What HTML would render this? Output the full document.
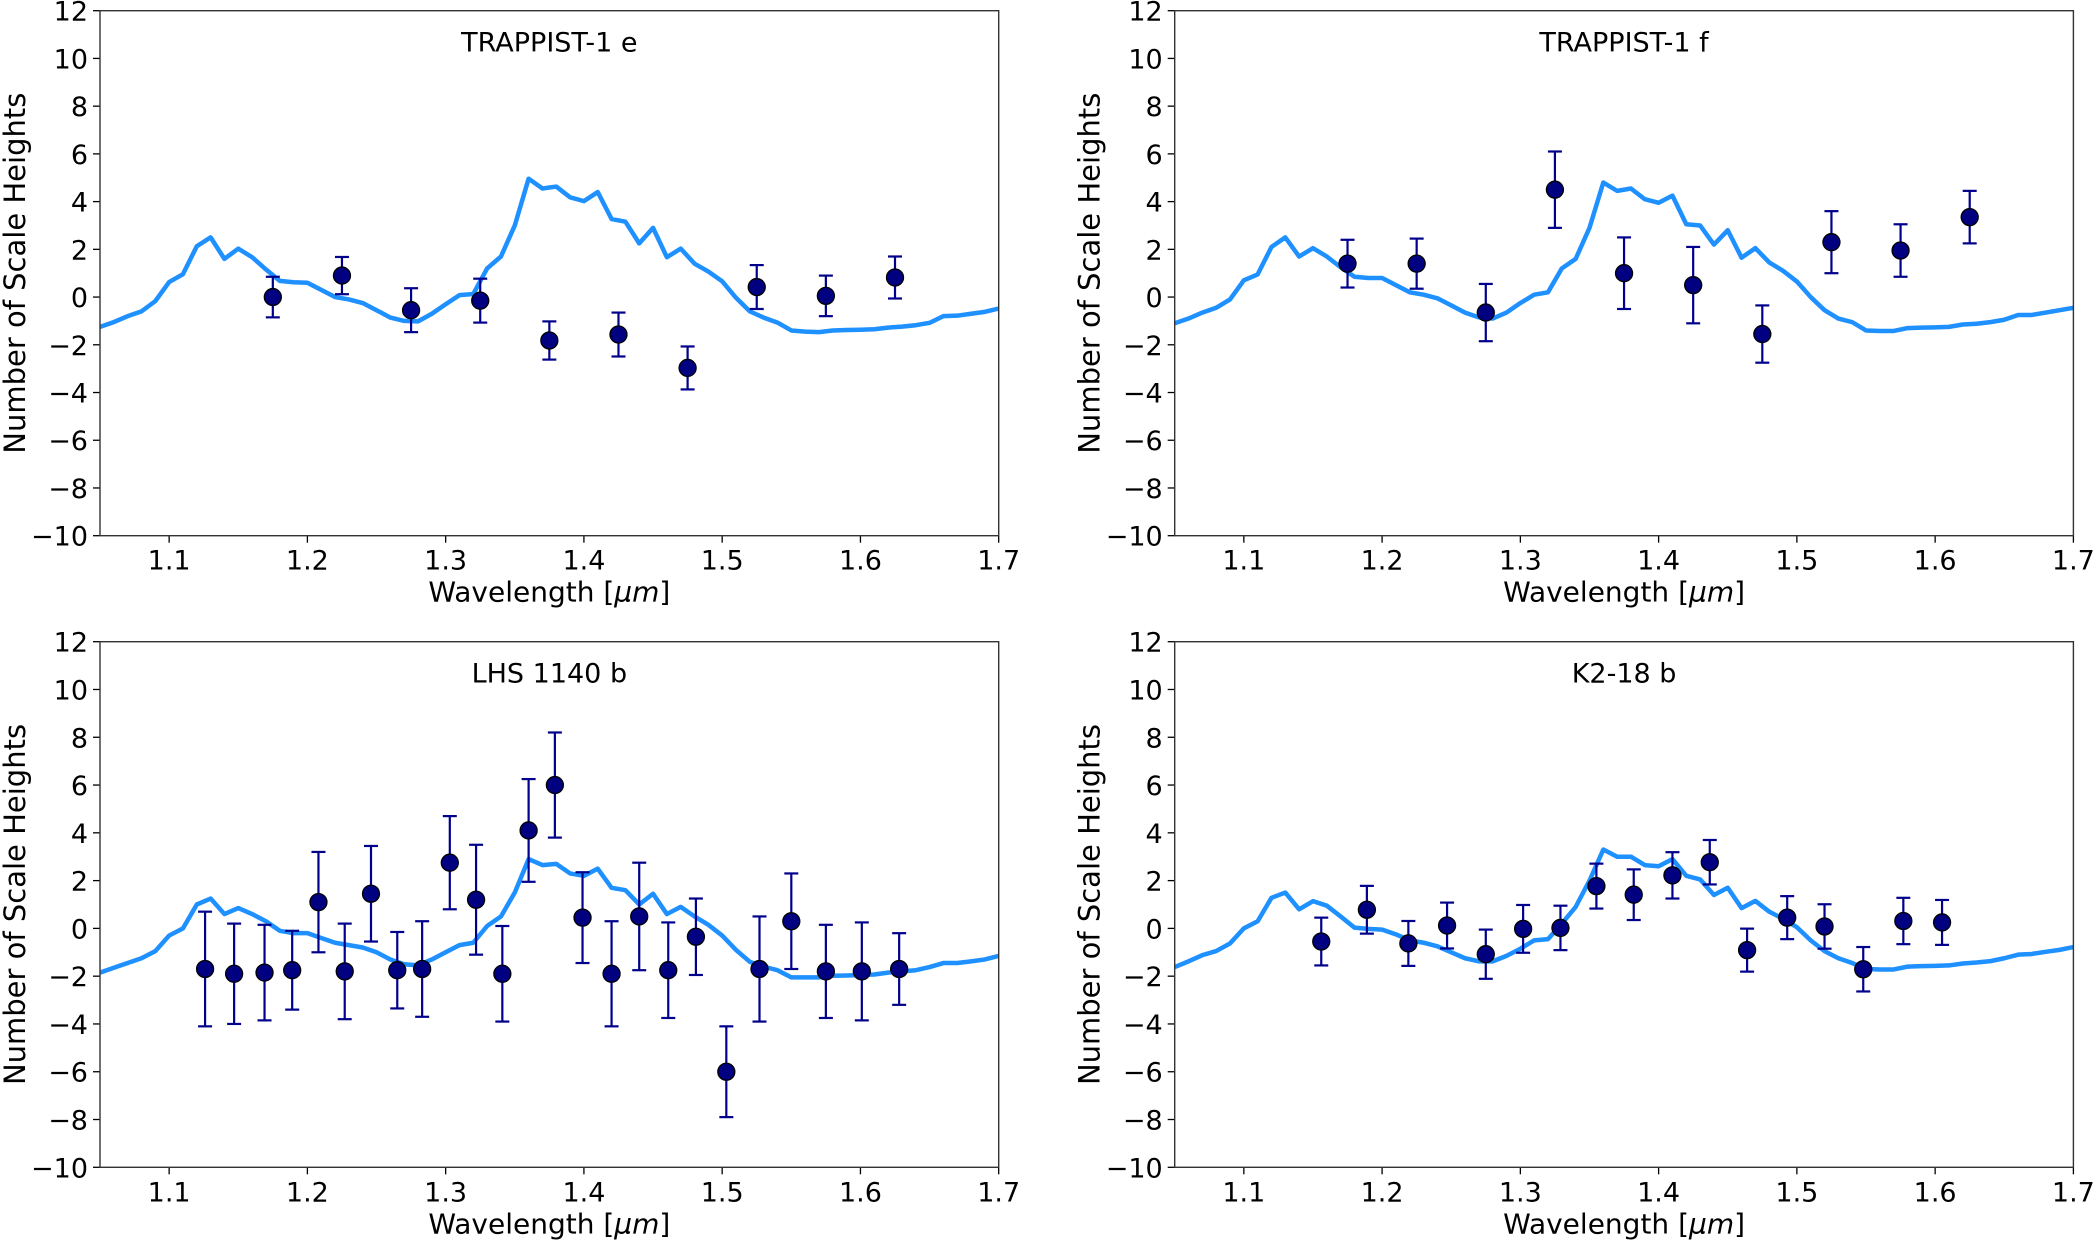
<!DOCTYPE html>
<html><head><meta charset="utf-8">
<style>
html,body{margin:0;padding:0;background:#fff;}
svg{display:block;}
text{font-family:"DejaVu Sans","Liberation Sans",sans-serif;fill:#000;}
</style></head>
<body>
<svg id="fig" width="2100" height="1242" viewBox="0 0 2100 1242" xmlns="http://www.w3.org/2000/svg"></svg>
<script>
const lineX = [1.05,1.06,1.07,1.08,1.09,1.10,1.11,1.12,1.13,1.14,1.15,1.16,1.17,1.18,1.19,1.20,1.21,1.22,1.23,1.24,1.25,1.26,1.27,1.28,1.29,1.30,1.31,1.32,1.33,1.34,1.35,1.36,1.37,1.38,1.39,1.40,1.41,1.42,1.43,1.44,1.45,1.46,1.47,1.48,1.49,1.50,1.51,1.52,1.53,1.54,1.55,1.56,1.57,1.58,1.59,1.60,1.61,1.62,1.63,1.64,1.65,1.66,1.67,1.68,1.69,1.70];
const xTicks = [1.1,1.2,1.3,1.4,1.5,1.6,1.7];
const yTicks = [-10,-8,-6,-4,-2,0,2,4,6,8,10,12];

const modelE = [-1.25,-1.05,-0.8,-0.6,-0.17,0.63,0.96,2.13,2.5,1.6,2.03,1.67,1.16,0.68,0.62,0.6,0.3,0.0,-0.1,-0.25,-0.55,-0.86,-1.0,-1.02,-0.7,-0.3,0.08,0.13,1.2,1.7,3.0,4.96,4.55,4.63,4.18,4.02,4.4,3.27,3.16,2.25,2.9,1.67,2.03,1.4,1.07,0.66,-0.03,-0.6,-0.86,-1.07,-1.4,-1.45,-1.47,-1.4,-1.38,-1.37,-1.35,-1.28,-1.24,-1.18,-1.08,-0.8,-0.78,-0.7,-0.62,-0.48];
const modelF = [-1.1,-0.9,-0.65,-0.45,-0.1,0.7,0.95,2.1,2.5,1.7,2.05,1.7,1.25,0.85,0.8,0.8,0.5,0.2,0.1,-0.05,-0.35,-0.65,-0.85,-0.9,-0.65,-0.25,0.1,0.2,1.2,1.6,2.9,4.8,4.45,4.55,4.1,3.95,4.25,3.05,3.0,2.2,2.8,1.65,2.05,1.45,1.1,0.65,0.0,-0.55,-0.9,-1.05,-1.4,-1.42,-1.42,-1.3,-1.28,-1.27,-1.25,-1.15,-1.12,-1.05,-0.95,-0.75,-0.75,-0.65,-0.55,-0.45];
const modelLHS = [-1.85,-1.65,-1.45,-1.25,-0.95,-0.3,0.0,1.0,1.25,0.6,0.85,0.6,0.3,-0.1,-0.2,-0.2,-0.4,-0.6,-0.7,-0.8,-1.0,-1.3,-1.5,-1.55,-1.3,-1.0,-0.7,-0.6,0.1,0.5,1.5,2.9,2.65,2.7,2.3,2.2,2.5,1.7,1.6,1.0,1.45,0.6,0.9,0.5,0.15,-0.3,-0.9,-1.4,-1.6,-1.75,-2.05,-2.05,-2.05,-1.98,-1.97,-1.95,-1.93,-1.85,-1.8,-1.75,-1.62,-1.45,-1.45,-1.38,-1.3,-1.15];
const modelK2 = [-1.62,-1.38,-1.12,-0.95,-0.63,0.0,0.3,1.28,1.5,0.8,1.14,0.95,0.5,0.03,-0.02,-0.05,-0.25,-0.5,-0.6,-0.75,-1.0,-1.25,-1.38,-1.38,-1.15,-0.85,-0.5,-0.45,0.2,0.9,2.0,3.3,3.0,3.0,2.65,2.6,2.9,2.2,2.05,1.4,1.7,0.85,1.15,0.7,0.4,0.05,-0.5,-0.95,-1.25,-1.45,-1.7,-1.72,-1.72,-1.6,-1.58,-1.57,-1.55,-1.47,-1.43,-1.37,-1.25,-1.1,-1.07,-0.98,-0.9,-0.78];

const obsXE = [1.175,1.225,1.275,1.325,1.375,1.425,1.475,1.525,1.575,1.625];
const obsYE = [0.0,0.9,-0.55,-0.15,-1.82,-1.57,-2.97,0.42,0.05,0.82];
const obsErrE = [0.85,0.78,0.92,0.92,0.8,0.92,0.9,0.92,0.85,0.88];

const obsXF = [1.175,1.225,1.275,1.325,1.375,1.425,1.475,1.525,1.575,1.625];
const obsYF = [1.4,1.4,-0.65,4.5,1.0,0.5,-1.55,2.3,1.95,3.35];
const obsErrF = [1.0,1.05,1.2,1.6,1.5,1.6,1.2,1.3,1.1,1.1];

const obsXLHS = [1.126,1.147,1.169,1.189,1.208,1.227,1.246,1.265,1.283,1.303,1.322,1.341,1.360,1.379,1.399,1.420,1.440,1.461,1.481,1.503,1.527,1.550,1.575,1.601,1.628];
const obsYLHS = [-1.7,-1.9,-1.85,-1.75,1.1,-1.8,1.45,-1.75,-1.7,2.75,1.2,-1.9,4.1,6.0,0.45,-1.9,0.5,-1.75,-0.35,-6.0,-1.7,0.3,-1.8,-1.8,-1.7];
const obsErrLHS = [2.4,2.1,2.0,1.65,2.1,2.0,2.0,1.6,2.0,1.95,2.3,2.0,2.15,2.2,1.9,2.2,2.25,2.0,1.6,1.9,2.2,2.0,1.95,2.05,1.5];

const obsXK2 = [1.156,1.189,1.219,1.247,1.275,1.302,1.329,1.355,1.382,1.410,1.437,1.464,1.493,1.520,1.548,1.577,1.605];
const obsYK2 = [-0.55,0.78,-0.63,0.12,-1.08,-0.02,0.02,1.77,1.41,2.22,2.77,-0.91,0.45,0.08,-1.71,0.31,0.25];
const obsErrK2 = [1.0,1.0,0.94,0.96,1.03,1.0,0.93,0.94,1.06,0.97,0.93,0.9,0.9,0.93,0.93,0.97,0.94];

const NS = "http://www.w3.org/2000/svg";
const svg = document.getElementById('fig');
function mk(tag, attrs, parent){
  const e = document.createElementNS(NS, tag);
  for (const k in attrs) e.setAttribute(k, attrs[k]);
  (parent||svg).appendChild(e);
  return e;
}

const panels = [
  {key:'trappist-1e', title:'TRAPPIST-1 e', px:100, py:10.7, pw:898.7, ph:525, model:modelE, ox:obsXE, oy:obsYE, oe:obsErrE},
  {key:'trappist-1f', title:'TRAPPIST-1 f', px:1174.7, py:10.7, pw:898.7, ph:525, model:modelF, ox:obsXF, oy:obsYF, oe:obsErrF},
  {key:'lhs-1140b', title:'LHS 1140 b', px:100, py:641.7, pw:898.7, ph:525.6, model:modelLHS, ox:obsXLHS, oy:obsYLHS, oe:obsErrLHS},
  {key:'k2-18b', title:'K2-18 b', px:1174.7, py:641.7, pw:898.7, ph:525.6, model:modelK2, ox:obsXK2, oy:obsYK2, oe:obsErrK2}
];

panels.forEach(p => {
  const g = mk('g', {});
  
  
  const xs = v => p.px + (v - 1.05) / 0.65 * p.pw;
  const ys = v => p.py + (12 - v) / 22 * p.ph;

  const cid = 'clip-' + p.key;
  const cp = mk('clipPath', {id: cid}, g);
  mk('rect', {x:p.px, y:p.py, width:p.pw, height:p.ph}, cp);

  xTicks.forEach(t => {
    const x = xs(t);
    const tl = mk('line', {x1:x, x2:x, y1:p.py+p.ph, y2:p.py+p.ph+7, stroke:'#000', 'stroke-width':1.3}, g);
    
    
    const tx = mk('text', {x:x, y:p.py+p.ph+34, 'font-size':27, 'text-anchor':'middle'}, g);
    tx.textContent = t.toFixed(1);
    
    
  });
  yTicks.forEach(t => {
    const y = ys(t);
    const tl = mk('line', {x1:p.px-7, x2:p.px, y1:y, y2:y, stroke:'#000', 'stroke-width':1.3}, g);
    
    
    const tx = mk('text', {x:p.px-12, y:y+10, 'font-size':27, 'text-anchor':'end'}, g);
    tx.textContent = t < 0 ? '\u2212' + Math.abs(t) : String(t);
    
    
  });

  let d = '';
  lineX.forEach((x, i) => { d += (i ? 'L' : 'M') + xs(x).toFixed(2) + ',' + ys(p.model[i]).toFixed(2); });
  const ln = mk('path', {d:d, fill:'none', stroke:'#1e90ff', 'stroke-width':4.5, 'stroke-linejoin':'round', 'clip-path':'url(#'+cid+')'}, g);
  
  

  p.ox.forEach((x, i) => {
    const cx = xs(x), cy = ys(p.oy[i]);
    const y1 = ys(p.oy[i] + p.oe[i]), y2 = ys(p.oy[i] - p.oe[i]);
    const eg = mk('g', {stroke:'#00008b', 'stroke-width':2.2}, g);
    
    
    mk('line', {x1:cx, x2:cx, y1:y1, y2:y2}, eg);
    mk('line', {x1:cx-7, x2:cx+7, y1:y1, y2:y1}, eg);
    mk('line', {x1:cx-7, x2:cx+7, y1:y2, y2:y2}, eg);
    const c = mk('circle', {cx:cx, cy:cy, r:8.5, fill:'#000080', stroke:'#000', 'stroke-width':1.3}, g);
    
    
  });

  const fr = mk('rect', {x:p.px, y:p.py, width:p.pw, height:p.ph, fill:'none', stroke:'#333', 'stroke-width':1.4}, g);
  
  

  const tt = mk('text', {x:p.px + p.pw/2, y:p.py + 41, 'font-size':27, 'text-anchor':'middle'}, g);
  tt.textContent = p.title;
  
  

  const xl = mk('text', {x:p.px + p.pw/2, y:p.py + p.ph + 66, 'font-size':28, 'text-anchor':'middle'}, g);
  xl.innerHTML = 'Wavelength [<tspan font-style="italic">\u03bcm</tspan>]';
  
  
  const lx = p.px - 75, ly = p.py + p.ph/2;
  const yl = mk('text', {x:lx, y:ly, 'font-size':29, 'text-anchor':'middle', transform:'rotate(-90 '+lx+' '+ly+')'}, g);
  yl.textContent = 'Number of Scale Heights';
  
  
});
</script>
</body></html>
